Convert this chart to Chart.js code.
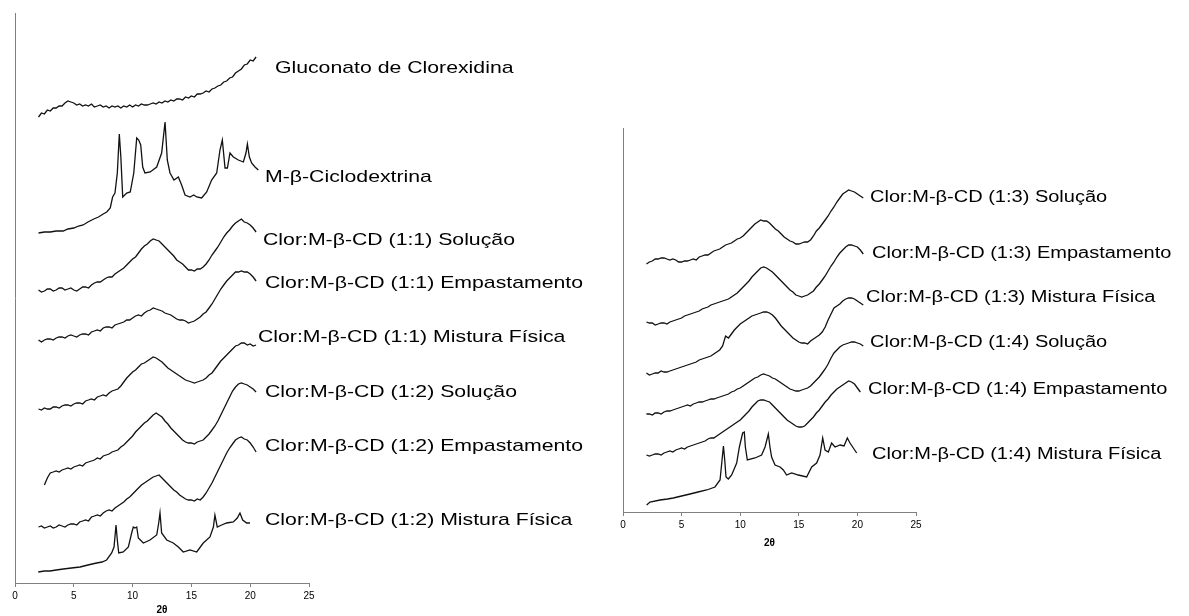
<!DOCTYPE html>
<html>
<head>
<meta charset="utf-8">
<script src="https://cdn.jsdelivr.net/npm/chart.js@4.4.0/dist/chart.umd.min.js"></script>
<style>
  body { margin: 0; background: #fff; width: 1189px; height: 616px; overflow: hidden; position: relative; }
  .panel { position: absolute; top: 0; }
  #left { left: 0; }
  #right { left: 600px; }
</style>
</head>
<body>
<div class="panel" id="left"><canvas id="chart-left" width="600" height="616"></canvas></div>
<div class="panel" id="right"><canvas id="chart-right" width="589" height="616"></canvas></div>
<script>
// Difratogramas de raios X (2θ), curvas deslocadas verticalmente

// passo de 0,25° das curvas amorfas (2° a 20,5°)
const twoTheta = [
  2, 2.25, 2.5, 2.75, 3, 3.25, 3.5, 3.75, 4, 4.25,
  4.5, 4.75, 5, 5.25, 5.5, 5.75, 6, 6.25, 6.5, 6.75,
  7, 7.25, 7.5, 7.75, 8, 8.25, 8.5, 8.75, 9, 9.25,
  9.5, 9.75, 10, 10.25, 10.5, 10.75, 11, 11.25, 11.5, 11.75,
  12, 12.25, 12.5, 12.75, 13, 13.25, 13.5, 13.75, 14, 14.25,
  14.5, 14.75, 15, 15.25, 15.5, 15.75, 16, 16.25, 16.5, 16.75,
  17, 17.25, 17.5, 17.75, 18, 18.25, 18.5, 18.75, 19, 19.25,
  19.5, 19.75, 20, 20.25, 20.5];

// painel 1:1 / 1:2
const gluconato = [
  466, 470, 469, 473, 472, 475, 475, 477, 477, 480,
  482, 481, 480, 478, 479, 477, 478, 477, 479, 476,
  477, 478, 476, 477, 475, 477, 476, 477, 475, 477,
  476, 478, 476, 478, 477, 479, 478, 478, 479, 480,
  479, 481, 480, 482, 481, 483, 482, 484, 484, 483,
  486, 485, 487, 486, 489, 489, 490, 492, 491, 494,
  495, 497, 498, 501, 502, 505, 506, 510, 512, 514,
  518, 519, 523, 522, 526];
const sol11 = [
  293, 291, 292, 294, 294, 292, 293, 295, 295, 293,
  294, 295, 293, 292, 294, 296, 296, 295, 298, 300,
  301, 301, 303, 305, 306, 306, 309, 311, 313, 315,
  318, 321, 324, 326, 330, 334, 337, 339, 342, 344,
  343, 342, 339, 336, 333, 330, 327, 323, 321, 319,
  316, 313, 313, 312, 314, 314, 316, 319, 323, 328,
  332, 336, 341, 346, 350, 353, 357, 360, 362, 364,
  361, 360, 358, 355, 351];
const emp11 = [
  243, 241, 243, 244, 244, 243, 245, 246, 246, 245,
  247, 248, 247, 246, 248, 249, 249, 248, 251, 252,
  253, 252, 255, 256, 256, 255, 258, 259, 260, 261,
  263, 263, 265, 267, 268, 267, 270, 272, 273, 275,
  274, 273, 272, 270, 269, 268, 266, 264, 263, 263,
  262, 260, 261, 262, 264, 266, 269, 271, 275, 279,
  284, 289, 294, 298, 302, 305, 308, 311, 311, 312,
  311, 311, 309, 306, 302];
const mf11 = [
  174, 173, 175, 174, 174, 176, 176, 175, 177, 178,
  178, 177, 179, 180, 180, 179, 182, 183, 184, 183,
  186, 187, 188, 187, 190, 192, 193, 194, 197, 201,
  205, 208, 211, 213, 216, 219, 220, 222, 224, 226,
  225, 223, 221, 218, 215, 213, 211, 209, 207, 205,
  203, 202, 201, 200, 201, 202, 203, 205, 208, 210,
  214, 218, 222, 225, 228, 231, 234, 237, 238, 240,
  240, 238, 239, 237, 238];
const sol12 = [
  null, null, 98, 105, 110, 111, 112, 111, 113, 114,
  115, 114, 116, 117, 118, 117, 120, 121, 122, 123,
  125, 124, 127, 128, 129, 131, 132, 133, 136, 138,
  141, 144, 147, 151, 154, 157, 160, 162, 165, 168,
  170, 168, 166, 162, 159, 155, 152, 149, 146, 143,
  141, 140, 140, 139, 141, 142, 143, 146, 149, 153,
  157, 162, 168, 174, 180, 186, 192, 196, 199, 200,
  199, 198, 196, 194, 191];
const emp12 = [
  56, 57, 55, 56, 57, 55, 56, 58, 57, 56,
  58, 59, 59, 58, 61, 62, 63, 62, 66, 67,
  68, 67, 70, 72, 73, 72, 75, 77, 79, 81,
  84, 86, 89, 92, 95, 98, 100, 102, 104, 106,
  107, 108, 105, 102, 99, 96, 93, 91, 88, 86,
  84, 83, 83, 82, 84, 83, 86, 90, 95, 100,
  106, 112, 118, 124, 130, 135, 139, 143, 145, 146,
  144, 143, 140, 136, 131];

// M-β-ciclodextrina (cristalina)
const mbcdTheta = [2.0, 2.5, 3.0, 3.5, 4.1, 4.5, 5.0, 5.4, 5.8, 6.2, 6.7, 7.1, 7.5, 7.8, 8.1, 8.3, 8.5, 8.7, 8.87, 9.0,
  9.16, 9.5, 9.8, 10.1, 10.35, 10.52, 10.69, 10.86, 11.05, 11.5, 12.05, 12.47, 12.76, 12.95, 13.18, 13.52, 13.89, 14.17, 14.46, 14.88,
  15.2, 15.45, 15.87, 16.3, 16.72, 17.15, 17.43, 17.63, 17.86, 18.06, 18.28, 18.57, 18.99, 19.42, 19.64, 19.76, 19.93, 20.12, 20.41, 20.69];
const mbcd = [350, 351, 351, 352, 352, 354, 355, 357, 358, 361, 364, 366, 369, 371, 375, 386, 390, 410, 449, 426,
  386, 390, 391, 410, 445, 443, 438, 416, 410, 411, 416, 430, 461, 423, 410, 403, 406, 398, 388, 386,
  388, 386, 385, 391, 403, 410, 433, 443, 415, 415, 430, 426, 423, 421, 430, 439, 426, 420, 416, 413];

// mistura física 1:2
const mf12Theta = [1.98, 2.5, 2.98, 3.5, 4.11, 4.8, 5.53, 6.2, 6.94, 7.4, 7.79, 8.22, 8.42, 8.59, 8.7, 8.82, 9.21, 9.64, 9.92, 10.06,
  10.2, 10.35, 10.49, 10.91, 11.48, 12.05, 12.22, 12.33, 12.47, 12.9, 13.46, 13.89, 14.31, 14.88, 15.45, 16.01, 16.58, 16.87, 17.0, 17.2,
  17.57, 18.0, 18.57, 18.9, 19.13, 19.36, 19.7, 19.98];
const mf12 = [11, 12, 12, 13, 14, 15, 16, 18, 20, 21, 23, 30, 36, 58, 43, 30, 31, 36, 50, 56,
  55, 56, 45, 40, 43, 48, 60, 70, 50, 43, 40, 36, 31, 33, 31, 40, 46, 56, 68, 56,
  58, 60, 61, 65, 70, 63, 60, 60];

// painel 1:3 / 1:4
const sol13 = [
  248, 250, 251, 253, 253, 254, 254, 253, 252, 253,
  252, 250, 250, 251, 251, 252, 253, 252, 255, 256,
  257, 257, 259, 261, 262, 263, 265, 267, 268, 269,
  271, 273, 274, 276, 279, 282, 285, 288, 290, 292,
  291, 291, 289, 286, 283, 281, 278, 275, 273, 271,
  270, 268, 268, 269, 270, 270, 272, 276, 281, 284,
  288, 292, 296, 301, 305, 310, 314, 318, 320, 322,
  321, 320, 318, 316, 314];
const emp13 = [
  190, 189, 189, 187, 188, 189, 189, 188, 190, 191,
  192, 193, 194, 196, 197, 198, 199, 200, 201, 203,
  204, 205, 207, 208, 209, 210, 211, 212, 213, 215,
  217, 219, 222, 225, 228, 231, 235, 238, 241, 244,
  245, 244, 242, 240, 237, 234, 231, 228, 225, 222,
  220, 217, 216, 215, 216, 217, 219, 221, 225, 228,
  232, 236, 241, 246, 250, 255, 259, 262, 265, 267,
  267, 266, 265, 262, 258];
const mf13 = [
  139, 137, 138, 139, 139, 141, 140, 140, 141, 142,
  143, 144, 145, 146, 147, 148, 149, 150, 152, 153,
  154, 155, 156, 158, 160, 162, 166, 176, 174, 178,
  182, 185, 188, 190, 192, 194, 196, 197, 198, 199,
  200, 200, 199, 197, 194, 190, 186, 183, 180, 177,
  174, 172, 170, 169, 169, 168, 171, 173, 175, 177,
  180, 185, 192, 198, 204, 206, 208, 211, 213, 214,
  214, 213, 211, 209, 207];
const sol14 = [
  98, 98, 97, 99, 99, 98, 100, 101, 101, 102,
  103, 104, 105, 106, 107, 106, 108, 109, 110, 110,
  111, 112, 113, 113, 114, 115, 116, 117, 118, 120,
  121, 123, 124, 126, 128, 130, 132, 134, 135, 137,
  138, 137, 136, 134, 133, 131, 129, 127, 125, 123,
  122, 121, 121, 122, 123, 124, 126, 129, 132, 135,
  139, 143, 148, 154, 159, 162, 165, 167, 168, 169,
  170, 170, 169, 168, 166];
const emp14 = [
  57, 56, 57, 58, 58, 57, 59, 60, 61, 60,
  62, 63, 64, 63, 65, 66, 67, 68, 69, 70,
  71, 73, 74, 74, 76, 78, 80, 82, 84, 86,
  88, 90, 92, 95, 98, 101, 105, 108, 111, 112,
  112, 111, 110, 107, 104, 101, 98, 95, 92, 90,
  88, 86, 85, 85, 86, 89, 92, 95, 99, 102,
  106, 110, 113, 117, 120, 123, 125, 127, 129, 131,
  130, 128, 124, 120, null];

// mistura física 1:4
const mf14Theta = [2.02, 2.3, 3.16, 3.8, 4.29, 5.0, 5.72, 6.4, 7.14, 7.85, 8.28, 8.45, 8.57, 8.68, 8.79, 8.99, 9.27, 9.7, 9.93, 10.07,
  10.21, 10.35, 10.44, 10.61, 11.26, 11.83, 12.12, 12.4, 12.54, 12.68, 12.97, 13.4, 13.68, 13.96, 14.39, 14.96, 15.67, 16.1, 16.52, 16.81,
  17.04, 17.24, 17.52, 17.8, 18.09, 18.52, 18.86, 19.14, 19.37, 19.71, 19.94];
const mf14 = [7, 10, 12, 13, 14, 16, 18, 20, 22, 25, 32, 52, 66, 52, 35, 33, 37, 49, 65, 72,
  79, 80, 65, 52, 54, 57, 65, 78, 65, 55, 47, 45, 42, 37, 39, 37, 35, 45, 49, 57,
  74, 62, 60, 69, 65, 67, 66, 74, 69, 63, 59];

const xTicks = [0, 5, 10, 15, 20, 25];

const FONT = '"Liberation Sans", Arial, sans-serif';
const TICK_FONT = '"Liberation Sans Narrow", "Liberation Sans", Arial, sans-serif';

const pairs = (xs, ys) => xs.map((x, i) => ({ x, y: ys[i] }));

// nome de cada amostra escrito ao lado da curva (labelAt = [2θ, intensidade])
const traceLabels = {
  id: 'traceLabels',
  afterDatasetsDraw(chart, args, opts) {
    const { ctx, scales: { x, y } } = chart;
    ctx.save();
    ctx.fillStyle = '#000';
    ctx.font = opts.size + 'px ' + FONT;
    ctx.textBaseline = 'middle';
    chart.data.datasets.forEach(ds => {
      ctx.save();
      ctx.translate(x.getPixelForValue(ds.labelAt[0]), y.getPixelForValue(ds.labelAt[1]));
      ctx.scale(1.25, 1);
      ctx.fillText(ds.label, 0, 0);
      ctx.restore();
    });
    ctx.restore();
  }
};

function trace(label, data, labelAt) {
  return {
    label, data, labelAt,
    borderColor: '#111',
    borderWidth: 1.3,
    pointRadius: 0,
    tension: 0,
    fill: false,
  };
}

function makeOptions(yMax, xHeight, pad, labelSize) {
  return {
    responsive: false,
    animation: false,
    layout: { padding: pad },
    plugins: {
      legend: { display: false },
      tooltip: { enabled: false },
      traceLabels: { size: labelSize }
    },
    scales: {
      x: {
        type: 'linear', min: 0, max: 25,
        afterBuildTicks: s => { s.ticks = xTicks.map(v => ({ value: v })); },
        ticks: { color: '#000', font: { size: 10, family: TICK_FONT }, padding: 3, maxRotation: 0 },
        grid: { display: true, drawOnChartArea: false, drawTicks: true, tickLength: 4, color: '#808080' },
        border: { display: true, color: '#808080', width: 1 },
        title: { display: true, text: '2θ', color: '#000', font: { size: 10, family: FONT, weight: 'bold' }, padding: 0 },
        afterFit: s => { s.height = xHeight; }
      },
      y: {
        min: 0, max: yMax,
        ticks: { display: false },
        grid: { display: false, drawTicks: false },
        border: { display: true, color: '#808080', width: 1 },
        afterFit: s => { s.width = 0; }
      }
    }
  };
}

new Chart(document.getElementById('chart-left'), {
  type: 'line',
  data: {
    datasets: [
      trace('Gluconato de Clorexidina', pairs(twoTheta, gluconato), [22.1, 515]),
      trace('M-β-Ciclodextrina', pairs(mbcdTheta, mbcd), [21.26, 406]),
      trace('Clor:M-β-CD (1:1) Solução', pairs(twoTheta, sol11), [21.09, 343]),
      trace('Clor:M-β-CD (1:1) Empastamento', pairs(twoTheta, emp11), [21.26, 300]),
      trace('Clor:M-β-CD (1:1) Mistura Física', pairs(twoTheta, mf11), [20.66, 246]),
      trace('Clor:M-β-CD (1:2) Solução', pairs(twoTheta, sol12), [21.26, 191]),
      trace('Clor:M-β-CD (1:2) Empastamento', pairs(twoTheta, emp12), [21.26, 137]),
      trace('Clor:M-β-CD (1:2) Mistura Física', pairs(mf12Theta, mf12), [21.26, 63]),
    ]
  },
  options: makeOptions(570, 33, { left: 15, top: 13, right: 291, bottom: 0 }, 17),
  plugins: [traceLabels]
});

new Chart(document.getElementById('chart-right'), {
  type: 'line',
  data: {
    datasets: [
      trace('Clor:M-β-CD (1:3) Solução', pairs(twoTheta, sol13), [21.08, 314]),
      trace('Clor:M-β-CD (1:3) Empastamento', pairs(twoTheta, emp13), [21.25, 258]),
      trace('Clor:M-β-CD (1:3) Mistura Física', pairs(twoTheta, mf13), [20.73, 214]),
      trace('Clor:M-β-CD (1:4) Solução', pairs(twoTheta, sol14), [21.08, 169]),
      trace('Clor:M-β-CD (1:4) Empastamento', pairs(twoTheta, emp14), [20.9, 122]),
      trace('Clor:M-β-CD (1:4) Mistura Física', pairs(mf14Theta, mf14), [21.25, 57]),
    ]
  },
  options: makeOptions(384, 37, { left: 23, top: 128, right: 273, bottom: 67 }, 16),
  plugins: [traceLabels]
});
</script>
</body>
</html>
